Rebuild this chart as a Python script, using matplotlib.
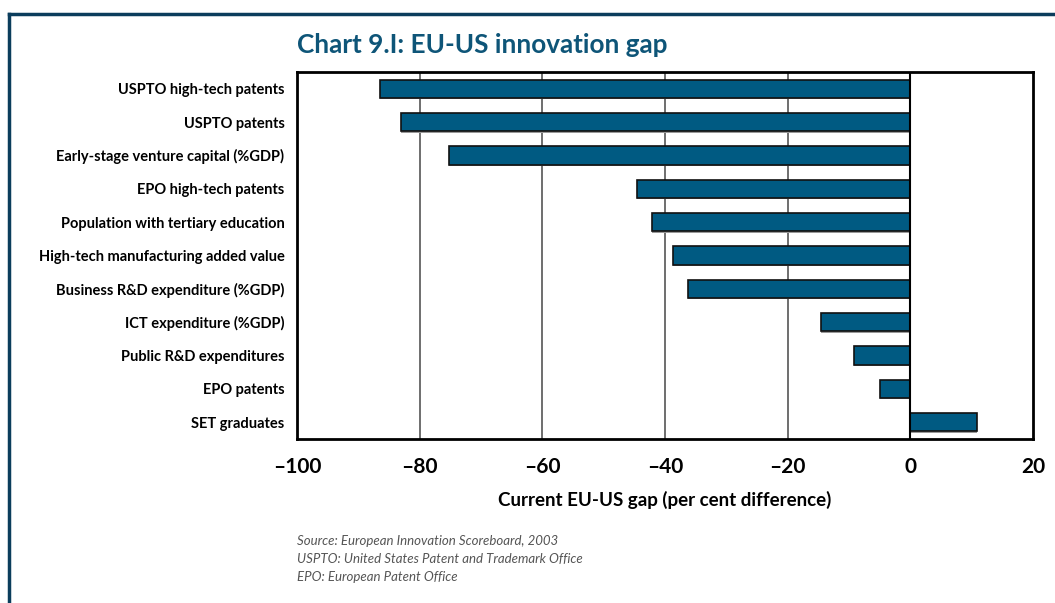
#!/usr/bin/env python3
import numpy as np
import matplotlib
matplotlib.use('Agg')
import matplotlib.pyplot as plt
from matplotlib.lines import Line2D

# Data
categories = ['USPTO high-tech patents', 'USPTO patents', 'Early-stage venture capital (%GDP)',
              'EPO high-tech patents', 'Population with tertiary education',
              'High-tech manufacturing added value', 'Business R&D expenditure (%GDP)',
              'ICT expenditure (%GDP)', 'Public R&D expenditures', 'EPO patents', 'SET graduates']
gap = [-86.5, -83.0, -75.2, -44.6, -42.1, -38.7, -36.3, -14.6, -9.2, -5.0, 10.9]
xticks = [-100, -80, -60, -40, -20, 0, 20]
xtick_labels = ['\u2013100', '\u201380', '\u201360', '\u201340', '\u201320', '0', '20']

navy = '#0b3d5c'
bar_col = '#005a82'
plt.rcParams['font.family'] = ['Lato', 'DejaVu Sans']

fig = plt.figure(figsize=(10.55, 6.03), dpi=100, facecolor='white')
W, H = 1055, 603

# page frame
fig.add_artist(Line2D([9/W, 9/W], [0, 1 - 14/H], color=navy, lw=2.5))
fig.add_artist(Line2D([9/W, 1], [1 - 14/H, 1 - 14/H], color=navy, lw=2.5))

ax = fig.add_axes([297/W, 1 - 439/H, (1033 - 297)/W, (439 - 72)/H])
y = np.arange(len(categories))

for xv in [-80, -60, -40, -20]:
    ax.axvline(xv, color='#555555', lw=1.2, zorder=1)

# shadow then bars
ax.barh(y + 0.04, gap, height=0.55, left=0, color='#999999', zorder=2, linewidth=0)
ax.barh(y, gap, height=0.55, color=bar_col, edgecolor='#111111', linewidth=1.2, zorder=3)
ax.axvline(0, color='black', lw=1.5, zorder=4)

ax.set_xlim(-100, 20)
ax.set_ylim(len(categories) - 0.5, -0.5)
ax.set_yticks(y)
ax.set_yticklabels(categories, fontsize=10.5, fontweight='bold')
ax.set_xticks(xticks)
ax.set_xticklabels(xtick_labels, fontsize=15, fontweight='bold')
ax.tick_params(axis='y', length=0, pad=9)
ax.tick_params(axis='x', length=0, pad=13)
for s in ax.spines.values():
    s.set_linewidth(2)
ax.set_xlabel('Current EU-US gap (per cent difference)', fontsize=13.5, fontweight='bold', labelpad=10)

fig.text(297/W, 1 - 45/H, 'Chart 9.I: EU-US innovation gap', fontsize=18.8, fontweight='bold',
         color='#0e5578', va='center', ha='left')

notes = ['Source: European Innovation Scoreboard, 2003',
         'USPTO: United States Patent and Trademark Office',
         'EPO: European Patent Office']
for i, t in enumerate(notes):
    fig.text(297/W, 1 - (541 + 18*i)/H, t, fontsize=9.5, style='italic', color='#555555',
             va='center', ha='left')

plt.savefig('out.png', dpi=100, facecolor='white')
